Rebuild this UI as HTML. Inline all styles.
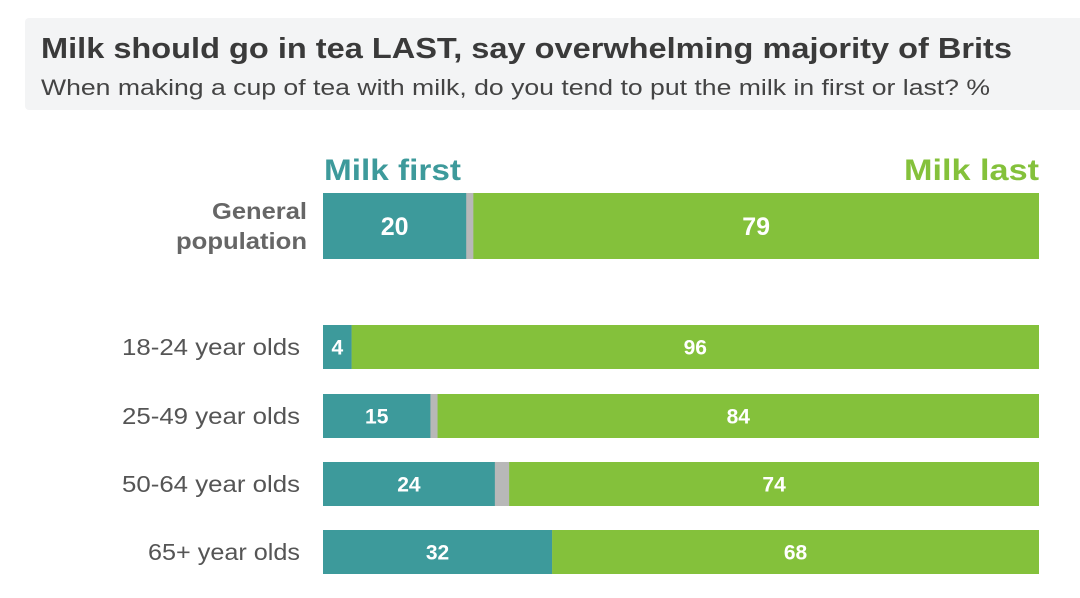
<!DOCTYPE html>
<html><head><meta charset="utf-8"><style>
body{margin:0;background:#fff;width:1080px;height:593px;overflow:hidden;font-family:"Liberation Sans",sans-serif}
</style></head><body>
<svg id="c" width="1080" height="593">
<rect x="25" y="18" width="1060" height="92" rx="4" fill="#f3f4f5"/>
<text x="41" y="58" font-size="29" font-weight="bold" fill="#3a3a3a" textLength="971" lengthAdjust="spacingAndGlyphs">Milk should go in tea LAST, say overwhelming majority of Brits</text>
<text x="41" y="95" font-size="22" fill="#444" textLength="949" lengthAdjust="spacingAndGlyphs">When making a cup of tea with milk, do you tend to put the milk in first or last? %</text>
<text x="324" y="180" font-size="30" font-weight="bold" fill="#3d9a9b" textLength="137" lengthAdjust="spacingAndGlyphs">Milk first</text>
<text x="904" y="180" font-size="30" font-weight="bold" fill="#84c13b" textLength="135" lengthAdjust="spacingAndGlyphs">Milk last</text>
<g id="bars"></g>
</svg>
<script>
const categories=["General population","18-24 year olds","25-49 year olds","50-64 year olds","65+ year olds"];
const milkFirst=[20,4,15,24,32];
const milkLast=[79,96,84,74,68];
const x0=323,x1=1039;
const rowTop=[193,325,394,462,530],rowH=[66,44,44,44,44];
function sx(v){return (x1-x0)*v/100;}
const ns="http://www.w3.org/2000/svg",g=document.getElementById('bars');
function mk(t,a,p){const e=document.createElementNS(ns,t);for(const k in a)e.setAttribute(k,a[k]);(p||g).appendChild(e);return e;}
categories.forEach((c,i)=>{
 const y=rowTop[i],h=rowH[i],wf=sx(milkFirst[i]),wl=sx(milkLast[i]);
 const grp=mk('g',{});
 
 
 const gr=mk('rect',{x:x0,y:y,width:x1-x0,height:h,fill:'#b8b8b8'},grp);
 
 
 const r1=mk('rect',{x:x0,y:y,width:wf,height:h,fill:'#3d9a9b'},grp);
 
 
 const r2=mk('rect',{x:x1-wl,y:y,width:wl,height:h,fill:'#84c13b'},grp);
 
 
 const fs=i==0?25:21;
 const t1=mk('text',{x:x0+wf/2,y:y+h/2+fs*0.36,'font-size':fs,'font-weight':'bold',fill:'#fff','text-anchor':'middle'},grp);
 t1.textContent=milkFirst[i];
 
 
 const t2=mk('text',{x:x1-wl/2,y:y+h/2+fs*0.36,'font-size':fs,'font-weight':'bold',fill:'#fff','text-anchor':'middle'},grp);
 t2.textContent=milkLast[i];
 
 
 if(i==0){
  const a=mk('text',{x:212,y:219,'font-size':23,'font-weight':'bold',fill:'#666',textLength:95,lengthAdjust:'spacingAndGlyphs'},grp);a.textContent="General";
  
  const b=mk('text',{x:176,y:249,'font-size':23,'font-weight':'bold',fill:'#666',textLength:131,lengthAdjust:'spacingAndGlyphs'},grp);b.textContent="population";
  
 } else {
  const len=i==4?152:178;
  const a=mk('text',{x:300-len,y:y+h/2+8,'font-size':23,fill:'#555',textLength:len,lengthAdjust:'spacingAndGlyphs'},grp);a.textContent=c;
  
 }
});
</script>
</body></html>
